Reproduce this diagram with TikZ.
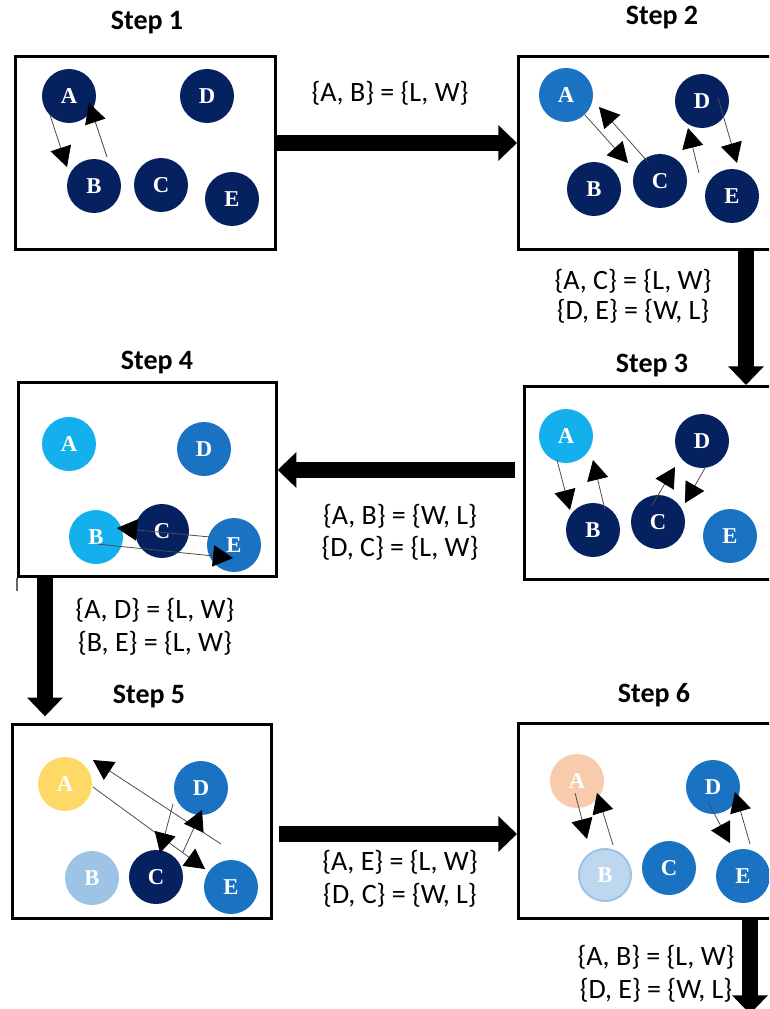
\documentclass[tikz,border=0pt]{standalone}
\usepackage{fontspec}
\setmainfont{Carlito}
\newfontfamily\lserif{Liberation Serif}
\usetikzlibrary{arrows.meta}
\definecolor{navy}{RGB}{6,33,96}
\definecolor{midblue}{RGB}{26,115,194}
\definecolor{sky}{RGB}{20,176,238}
\definecolor{gold}{RGB}{255,217,102}
\definecolor{pale}{RGB}{157,195,230}
\definecolor{peach}{RGB}{248,203,173}
\definecolor{paler}{RGB}{189,215,238}
\tikzset{
  ball/.style={circle, minimum size=40.5pt, inner sep=0pt, text=white,
    font=\lserif\bfseries\fontsize{17}{17}\selectfont},
  panel/.style={draw=black, line width=2pt, inner sep=0pt, anchor=north west},
  thin/.style={draw=black!70, line width=0.6pt, -{Triangle[length=15pt,width=16pt,color=black]}},
  big/.style={line width=11.5pt, -{Triangle[length=14pt,width=26pt]}},
  title/.style={font=\bfseries\fontsize{21}{25}\selectfont},
  lab/.style={font=\fontsize{21}{25}\selectfont},
}
\begin{document}
\begin{tikzpicture}[x=0.75pt,y=-0.75pt]
\useasboundingbox (0,0) rectangle (769,1009);
\clip (0,0) rectangle (769,1009);

% panels
\node[panel, minimum width=195pt, minimum height=144.75pt] (p1) at (14,55) {};
\node[panel, minimum width=212.25pt, minimum height=144.75pt] (p2) at (517,55) {};
\node[panel, minimum width=207.75pt, minimum height=144.75pt] (p3) at (523,385) {};
\node[panel, minimum width=193.5pt, minimum height=145.5pt] (p4) at (17,381) {};
\node[panel, minimum width=194.25pt, minimum height=145.5pt] (p5) at (11,723) {};
\node[panel, minimum width=212.25pt, minimum height=146.25pt] (p6) at (517,722) {};
\draw[line width=0.8pt, black!60] (p4.south west) -- ++(0,13);

% titles
\node[title] (t1) at (147,23) {Step 1};
\node[title] (t2) at (662,18) {Step 2};
\node[title] (t3) at (652,366) {Step 3};
\node[title] (t4) at (157,363) {Step 4};
\node[title] (t5) at (149,697) {Step 5};
\node[title] (t6) at (654,695) {Step 6};

% Step 1
\node[ball, fill=navy] (A1) at (69,96) {A};
\node[ball, fill=navy] (B1) at (94,186) {B};
\node[ball, fill=navy] (C1) at (161,185) {C};
\node[ball, fill=navy] (D1) at (207,96) {D};
\node[ball, fill=navy] (E1) at (232,199) {E};
\draw[thin] ([shift={(-19,19)}]A1.center) -- ([shift={(-27,-19)}]B1.center);
\draw[thin] ([shift={(13,-29)}]B1.center) -- ([shift={(20,7)}]A1.center);

% Step 2
\node[ball, fill=midblue] (A2) at (566,95) {A};
\node[ball, fill=navy] (B2) at (594,189) {B};
\node[ball, fill=navy] (C2) at (660,181) {C};
\node[ball, fill=navy] (D2) at (702,101) {D};
\node[ball, fill=navy] (E2) at (732,196) {E};
\draw[thin] ([shift={(19,20)}]A2.center) -- ([shift={(-32,-18)}]C2.center);
\draw[thin] ([shift={(-12,-19)}]C2.center) -- ([shift={(33,12)}]A2.center);
\draw[thin] ([shift={(-33,-23)}]E2.center) -- ([shift={(-14,27)}]D2.center);
\draw[thin] ([shift={(16,-3)}]D2.center) -- ([shift={(5,-33)}]E2.center);

% Step 3
\node[ball, fill=sky] (A3) at (566,436) {A};
\node[ball, fill=navy] (B3) at (593,530) {B};
\node[ball, fill=navy] (C3) at (658,522) {C};
\node[ball, fill=navy] (D3) at (702,441) {D};
\node[ball, fill=midblue] (E3) at (730,536) {E};
\draw[thin] ([shift={(-9,24)}]A3.center) -- ([shift={(-23,-20)}]B3.center);
\draw[thin] ([shift={(12,-20)}]B3.center) -- ([shift={(27,24)}]A3.center);
\draw[thin] ([shift={(-6,-17)}]C3.center) -- ([shift={(-27,26)}]D3.center);
\draw[thin] ([shift={(3,27)}]D3.center) -- ([shift={(27,-19)}]C3.center);

% Step 4
\node[ball, fill=sky] (A4) at (69,444) {A};
\node[ball, fill=midblue] (D4) at (204,449) {D};
\node[ball, fill=sky] (B4) at (96,537) {B};
\node[ball, fill=navy] (C4) at (162,531) {C};
\node[ball, fill=midblue] (E4) at (234,545) {E};
\draw[thin] ([shift={(-24,-8)}]E4.center) -- ([shift={(21,-9)}]B4.center);
\draw[thin] ([shift={(1,7)}]B4.center) -- ([shift={(-1,13)}]E4.center);

% Step 5
\node[ball, fill=gold] (A5) at (65,784) {A};
\node[ball, fill=pale] (B5) at (92,878) {B};
\node[ball, fill=navy] (C5) at (156,877) {C};
\node[ball, fill=midblue] (D5) at (201,788) {D};
\node[ball, fill=midblue] (E5) at (231,887) {E};
\draw[thin] ([shift={(-10,-43)}]E5.center) -- ([shift={(28,-24)}]A5.center);
\draw[thin] ([shift={(28,3)}]A5.center) -- ([shift={(-26,-18)}]E5.center);
\draw[thin] ([shift={(-28,16)}]D5.center) -- ([shift={(4,-24)}]C5.center);
\draw[thin] ([shift={(27,-25)}]C5.center) -- ([shift={(1,22)}]D5.center);

% Step 6
\node[ball, fill=peach] (A6) at (577,781) {A};
\node[ball, fill=paler, draw=pale, line width=1.5pt, minimum size=39pt] (B6) at (605,875) {B};
\node[ball, fill=midblue] (C6) at (669,868) {C};
\node[ball, fill=midblue] (D6) at (713,787) {D};
\node[ball, fill=midblue] (E6) at (743,876) {E};
\draw[thin] ([shift={(-2,12)}]A6.center) -- ([shift={(-18,-36)}]B6.center);
\draw[thin] ([shift={(8,-30)}]B6.center) -- ([shift={(20,12)}]A6.center);
\draw[thin] ([shift={(-5,15)}]D6.center) -- ([shift={(-13,-33)}]E6.center);
\draw[thin] ([shift={(7,-32)}]E6.center) -- ([shift={(22,5)}]D6.center);

% big arrows
\draw[big] (p1.east |- 0,143) -- (p2.west |- 0,143);
\draw[big] (p2.south -| 746,0) -- (p3.north -| 746,0);
\draw[big, shorten <=6pt] (p3.west |- 0,470) -- (p4.east |- 0,470);
\draw[big, shorten >=5pt] (p4.south -| 45,0) -- (p5.north -| 45,0);
\draw[big, shorten <=5pt] (p5.east |- 0,834) -- (p6.west |- 0,834);
\coordinate (end6) at (750,1014);
\draw[big] (p6.south -| 750,0) -- (end6);

% labels
\node[lab] (l1) at (390,93) {\{A, B\} = \{L, W\}};
\node[lab] (l2a) at (633,281) {\{A, C\} = \{L, W\}};
\node[lab] (l2b) at (633,311) {\{D, E\} = \{W, L\}};
\node[lab] (l3a) at (400,516) {\{A, B\} = \{W, L\}};
\node[lab] (l3b) at (400,548) {\{D, C\} = \{L, W\}};
\node[lab] (l4a) at (155,610) {\{A, D\} = \{L, W\}};
\node[lab] (l4b) at (155,643) {\{B, E\} = \{L, W\}};
\node[lab] (l5a) at (400,862) {\{A, E\} = \{L, W\}};
\node[lab] (l5b) at (400,895) {\{D, C\} = \{W, L\}};
\node[lab] (l6a) at (656,957) {\{A, B\} = \{L, W\}};
\node[lab] (l6b) at (656,990) {\{D, E\} = \{W, L\}};
\end{tikzpicture}
\end{document}
